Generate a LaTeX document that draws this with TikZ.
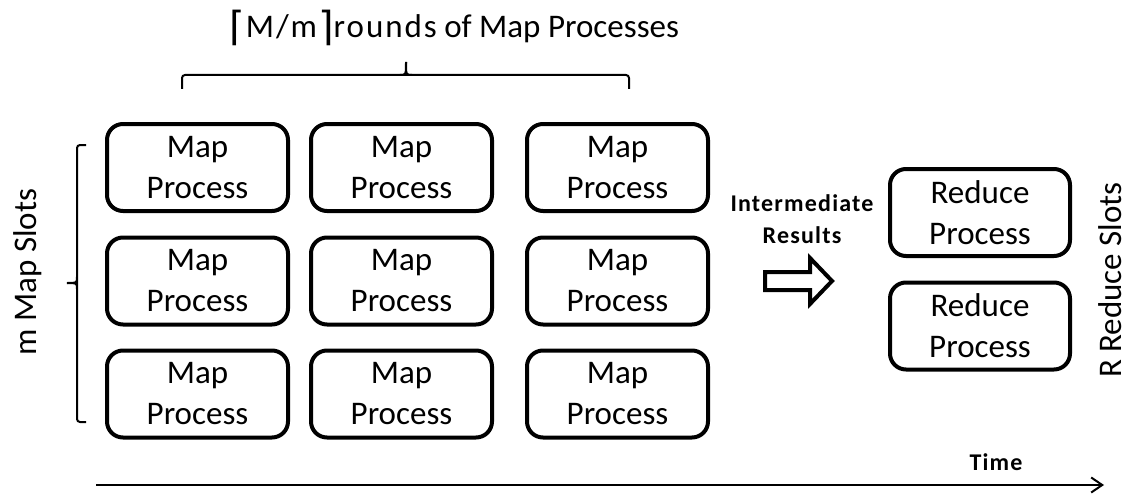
\documentclass[tikz,border=0pt]{standalone}
\usepackage{fontspec}
\setmainfont{Carlito}
\newfontfamily\symfnt{DejaVu Sans}
\usetikzlibrary{arrows.meta}
\tikzset{
  procbox/.style={draw, line width=4pt, rounded corners=16pt, minimum width=181pt, minimum height=87pt,
    align=center, inner sep=0pt, font=\fontsize{33}{41}\selectfont},
  bigtext/.style={inner sep=0pt, font=\fontsize{33}{41}\selectfont},
  boldtext/.style={inner sep=0pt, align=center, font=\fontsize{24}{32}\selectfont\bfseries\addfontfeatures{LetterSpace=5}},
  bracepath/.style={line width=2pt, rounded corners=3pt},
}
\newcommand{\wideword}[1]{{\addfontfeatures{LetterSpace=6}#1}}
\newcommand{\bigbrk}[1]{\raisebox{-2pt}{\symfnt\fontsize{40}{40}\selectfont #1}}
\begin{document}
\begin{tikzpicture}[x=1pt,y=-1pt]
\useasboundingbox (0,0) rectangle (1128,495);
% map process grid
\foreach \c/\x in {1/197.5,2/401.5,3/617.5}{
  \foreach \r/\y in {1/167.5,2/281,3/394}{
    \node[procbox] (m\c\r) at (\x,\y) {Map\\Process};
  }
}
% reduce processes
\node[procbox, minimum width=180pt] (r1) at (980,212.5) {Reduce\\Process};
\node[procbox, minimum width=180pt] (r2) at (980,326) {Reduce\\Process};
% top label and brace
\node[bigtext, anchor=base west] (toplabel) at (229,38) {\bigbrk{⌈}\hspace{1pt}\wideword{M/m}\hspace{1pt}\bigbrk{⌉}\wideword{rounds} of Map Processes};
\draw[bracepath] (182,89) -- (182,75) -- (629,75) -- (629,89);
\draw[line width=2pt] (400,75) .. controls (406,75) .. (406,62);
\draw[line width=2pt] (412,75) .. controls (406,75) .. (406,62);
% left brace and label
\draw[bracepath] (86,145) -- (77,145) -- (77,422) -- (86,422);
\draw[line width=2pt] (77,277) .. controls (77,283) .. (67,283);
\draw[line width=2pt] (77,289) .. controls (77,283) .. (67,283);
\node[bigtext, rotate=90, anchor=base] (mslots) at (36,272) {m Map Slots};
% right label
\node[bigtext, rotate=90, anchor=base] (rslots) at (1121,280) {R Reduce Slots};
% intermediate results
\node[boldtext] (inter) at (802,219) {Intermediate\\Results};
\draw[line width=4pt, line join=miter] (765,272) -- (810,272) -- (810,258) -- (832,281) -- (810,304) -- (810,290) -- (765,290) -- cycle;
% time axis
\node[boldtext, anchor=base] (time) at (996,470) {Time};
\coordinate (tstart) at (96,485);
\coordinate (tend) at (1104,485);
\draw[line width=2pt, -{Straight Barb[length=11pt,width=15pt]}] (tstart) -- (tend);
\end{tikzpicture}
\end{document}
